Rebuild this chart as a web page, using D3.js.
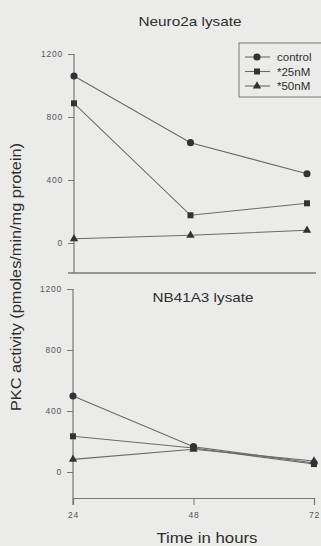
<!DOCTYPE html>
<html>
<head>
<meta charset="utf-8">
<script src="https://cdn.jsdelivr.net/npm/d3@7"></script>
<style>
  html, body { margin: 0; padding: 0; background: #ebebea; }
  svg { display: block; }
  text { font-family: "Liberation Sans", Arial, sans-serif; fill: #2e2e2e; }
</style>
</head>
<body>
<svg id="chart" width="321" height="546"></svg>
<script>
// Time points (hours)
const hours = [24, 48, 72];
const yTicks = [0, 400, 800, 1200];
const seriesNames = ["control", "*25nM", "*50nM"];
const seriesShapes = ["circle", "square", "triangle"];

// PKC activity, Neuro2a lysate
const neuroControl = [1060, 637, 440];
const neuro25 = [887, 176, 252];
const neuro50 = [27, 49, 81];

// PKC activity, NB41A3 lysate
const nbControl = [498, 166, 59];
const nb25 = [234, 157, 52];
const nb50 = [83, 149, 72];

const svg = d3.select("#chart");
const lineColor = "#6a6a6a";
const markColor = "#333";
const axisColor = "#777";
const tickFont = "'Liberation Sans', Arial, sans-serif";

const symbolTypes = {
  circle: d3.symbol().type(d3.symbolCircle).size(40),
  square: d3.symbol().type(d3.symbolSquare).size(36),
  triangle: d3.symbol().type(d3.symbolTriangle).size(30)
};

function styleTickText(sel) {
  sel.style("font-size", "8.5px").style("fill", "#555")
    .style("font-family", tickFont).attr("letter-spacing", "0.8");
}

function drawPanel(cfg) {
  const x = d3.scaleLinear().domain([24, 72]).range(cfg.xRange);
  const y = d3.scaleLinear().domain([0, 1200]).range(cfg.yRange);
  const g = svg.append("g");

  // y axis
  const yAxis = d3.axisLeft(y).tickValues(yTicks).tickFormat(d3.format("d"))
    .tickSize(6).tickPadding(5);
  const ga = g.append("g").attr("transform", `translate(${cfg.xRange[0]},0)`).call(yAxis);
  ga.select(".domain").remove();
  ga.selectAll(".tick line").attr("stroke", axisColor);
  styleTickText(ga.selectAll(".tick text"));
  g.append("line")
    .attr("x1", cfg.xRange[0]).attr("x2", cfg.xRange[0])
    .attr("y1", y(1200)).attr("y2", cfg.axisBottom)
    .attr("stroke", axisColor).attr("stroke-width", 1.2);

  // title
  g.append("text").attr("x", cfg.titleX).attr("y", cfg.titleY)
    .attr("text-anchor", "middle").style("font-size", "13.5px")
    .attr("textLength", cfg.titleWidth).attr("lengthAdjust", "spacingAndGlyphs")
    .text(cfg.title);

  const line = d3.line().x((d, i) => x(hours[i])).y(d => y(d));
  cfg.series.forEach((vals) => {
    g.append("path").datum(vals).attr("d", line)
      .attr("fill", "none").attr("stroke", lineColor).attr("stroke-width", 1.1);
  });
  cfg.series.forEach((vals, k) => {
    g.selectAll(null).data(vals).join("path")
      .attr("transform", (d, i) => `translate(${x(hours[i])},${y(d)})`)
      .attr("d", symbolTypes[seriesShapes[k]]())
      .attr("fill", markColor);
  });
  return { x, y, g };
}

// Neuro2a panel
const neuroPanel = drawPanel({
  title: "Neuro2a lysate", titleX: 190, titleY: 26, titleWidth: 103,
  xRange: [74, 307], yRange: [243, 54], axisBottom: 273,
  series: [neuroControl, neuro25, neuro50]
});
svg.append("line").attr("x1", 68).attr("x2", 316).attr("y1", 273).attr("y2", 273)
  .attr("stroke", axisColor).attr("stroke-width", 1.3);

// NB41A3 panel
const nbPanel = drawPanel({
  title: "NB41A3 lysate", titleX: 203, titleY: 302, titleWidth: 101,
  xRange: [73, 314], yRange: [472, 289], axisBottom: 505,
  series: [nbControl, nb25, nb50]
});
const xAxis = d3.axisBottom(nbPanel.x).tickValues(hours).tickSize(7).tickPadding(7);
const gx = svg.append("g").attr("transform", "translate(0,498)").call(xAxis);
gx.select(".domain").attr("stroke", axisColor).attr("stroke-width", 1.2);
gx.selectAll(".tick line").attr("stroke", axisColor);
styleTickText(gx.selectAll(".tick text"));

// axis titles
svg.append("text").attr("x", 207).attr("y", 543).attr("text-anchor", "middle")
  .style("font-size", "14.5px")
  .attr("textLength", 101).attr("lengthAdjust", "spacingAndGlyphs")
  .text("Time in hours");
svg.append("text").attr("transform", "translate(21,277) rotate(-90)")
  .attr("text-anchor", "middle").style("font-size", "14px")
  .attr("textLength", 268).attr("lengthAdjust", "spacingAndGlyphs")
  .text("PKC activity (pmoles/min/mg protein)");

// legend
const lg = svg.append("g");
lg.append("rect").attr("x", 239).attr("y", 43).attr("width", 90).attr("height", 54)
  .attr("fill", "none").attr("stroke", "#777").attr("stroke-width", 1);
seriesNames.forEach((name, k) => {
  const ly = 57 + k * 14.5;
  lg.append("line").attr("x1", 245).attr("x2", 270).attr("y1", ly).attr("y2", ly)
    .attr("stroke", lineColor).attr("stroke-width", 1.1);
  lg.append("path").attr("transform", `translate(257,${ly})`)
    .attr("d", symbolTypes[seriesShapes[k]]()).attr("fill", markColor);
  lg.append("text").attr("x", 277).attr("y", ly + 4).style("font-size", "11.5px").text(name);
});
</script>
</body>
</html>
